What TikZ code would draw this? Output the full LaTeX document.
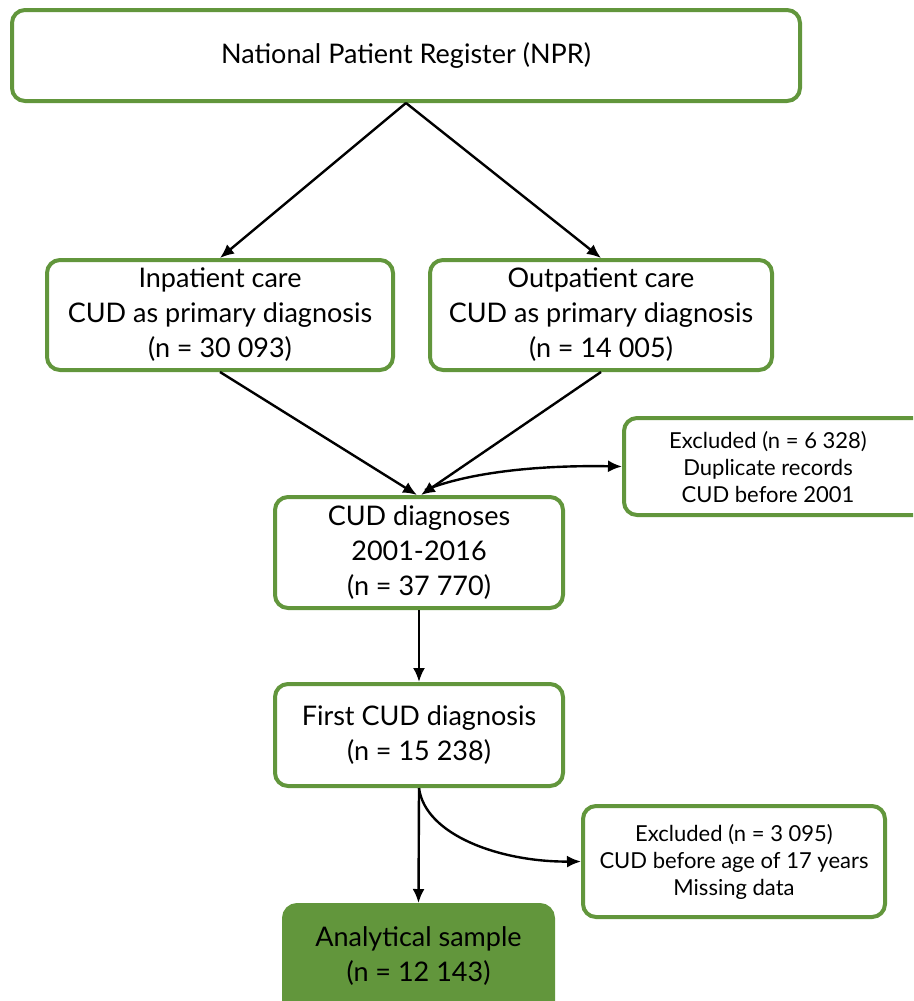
\documentclass[tikz,border=0pt]{standalone}
\usepackage{fontspec}
\setmainfont{Lato}
\usetikzlibrary{arrows.meta}
\definecolor{cgreen}{RGB}{98,150,60}
\tikzset{
  box/.style={draw=cgreen, line width=4pt, rounded corners=13pt, fill=white, align=center, inner sep=0pt},
  bigtxt/.style={font=\fontsize{27}{35}\selectfont},
  smalltxt/.style={font=\fontsize{22}{27}\selectfont},
  arr/.style={line width=2.4pt, -{Latex[length=14pt,width=12pt]}}
}
\begin{document}
\begin{tikzpicture}[x=1pt,y=-1pt]
\useasboundingbox (0,0) rectangle (913,1001);
\clip (0,0) rectangle (913,1001);
\node[box,bigtxt,minimum width=788pt,minimum height=91pt] (npr) at (406,55.5) {National Patient Register (NPR)};
\node[box,bigtxt,minimum width=346pt,minimum height=110pt] (inp) at (220,315) {\raisebox{-2pt}{}Inpatient care\\CUD as primary diagnosis\\(n = 30 093)};
\node[box,bigtxt,minimum width=342pt,minimum height=110pt] (outp) at (601,315) {Outpatient care\\CUD as primary diagnosis\\(n = 14 005)};
\node[box,minimum width=310pt,minimum height=97pt] (exc1) at (779,466.5) {};
\node[smalltxt,align=center] (exc1t) at (768,467) {Excluded (n = 6 328)\\Duplicate records\\CUD before 2001};
\node[box,bigtxt,minimum width=288pt,minimum height=111pt] (cud) at (419,552.5) {CUD diagnoses\\2001-2016\\(n = 37 770)};
\node[box,bigtxt,minimum width=288pt,minimum height=102pt] (first) at (419,735) {First CUD diagnosis\\(n = 15 238)};
\node[box,smalltxt,minimum width=302pt,minimum height=111pt] (exc2) at (734,861.5) {Excluded (n = 3 095)\\CUD before age of 17 years\\Missing data};
\node[box,fill=cgreen,minimum width=269pt,minimum height=130pt,anchor=north] (ana) at (418.5,903) {};
\node[bigtxt,align=center] (anat) at (418.5,956) {Analytical sample\\(n = 12 143)};
\draw[arr] (npr.south) -- (inp.north);
\draw[arr] (npr.south) -- (outp.north);
\draw[arr] (inp.south) -- ([xshift=-2pt]cud.north);
\draw[arr] (outp.south) -- ([xshift=2pt]cud.north);
\coordinate (c1) at ([xshift=6pt,yshift=5pt]cud.north);
\draw[arr] (c1) .. controls (470,472) and (540,465) .. (exc1.west);
\draw[arr] (cud.south) -- (first.north);
\draw[arr] (first.south) -- (ana.north);
\draw[arr] (first.south) .. controls (425,835) and (500,862) .. (exc2.west);
\end{tikzpicture}
\end{document}
